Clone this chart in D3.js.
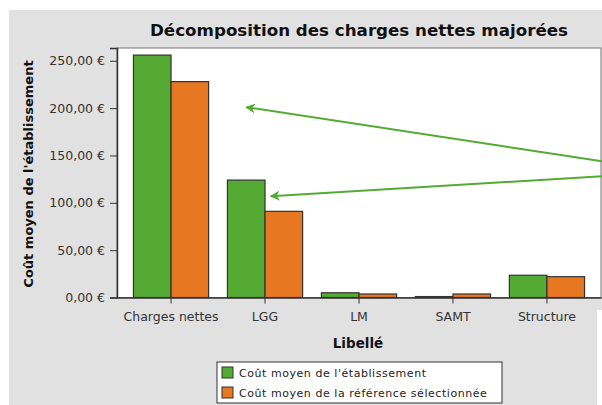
<!DOCTYPE html>
<html>
<head>
<meta charset="utf-8">
<script src="https://cdn.jsdelivr.net/npm/d3@7"></script>
<style>
  body { margin: 0; background: #fff; }
  text { font-family: "DejaVu Sans", sans-serif; }
</style>
</head>
<body>
<div id="chart"></div>
<script>
// data
var categories = ["Charges nettes", "LGG", "LM", "SAMT", "Structure"];
var etablissement = [256, 124, 5, 1, 23.5];
var reference = [228, 91, 3.7, 3.7, 22];
var seriesNames = ["Coût moyen de l'établissement", "Coût moyen de la référence sélectionnée"];
var yTicks = [0, 50, 100, 150, 200, 250];
// annotation arrows: tail at right edge, tip in data space (band index + offset, value)
var arrows = [
  { tailY: 144, tipCat: 1, tipOffset: -0.2, tipY: 201 },
  { tailY: 128, tipCat: 1, tipOffset: 0.06, tipY: 107 }
];

var width = 602,
  height = 405;
var colors = ["#55aa33", "#e87722"];

var svg = d3
  .select("#chart")
  .append("svg")
  .attr("width", width)
  .attr("height", height);

// grey panel behind everything
svg.append("rect")
  .attr("x", 9).attr("y", 10)
  .attr("width", width - 9).attr("height", height - 10)
  .attr("fill", "#e1e1e1");
svg.append("rect")
  .attr("x", 597).attr("y", 310)
  .attr("width", 5).attr("height", height - 310)
  .attr("fill", "#fff");

var plot = { left: 117, top: 48, right: 601, bottom: 297.5 };

var x = d3.scaleBand()
  .domain(categories)
  .range([plot.left, plot.right])
  .paddingInner(0)
  .paddingOuter(0.075);

var y = d3.scaleLinear()
  .domain([0, 263.5])
  .range([plot.bottom, plot.top]);

// plot background
svg.append("rect")
  .attr("x", plot.left).attr("y", plot.top)
  .attr("width", plot.right - plot.left).attr("height", plot.bottom - plot.top)
  .attr("fill", "#fff")
  .attr("stroke", "#777")
  .attr("stroke-width", 1);

//title
svg.append("text")
  .attr("x", 359).attr("y", 36)
  .attr("text-anchor", "middle")
  .attr("font-size", "16.7px")
  .style("font-weight", "bold")
  .attr("fill", "#111")
  .text("Décomposition des charges nettes majorées");

// bars
var barW = x.step() * 0.4;

[etablissement, reference].forEach(function(series, s) {
  svg.selectAll(".bar" + s)
    .data(series)
    .enter()
    .append("rect")
    .attr("class", "bar" + s)
    .attr("x", function(d, i) {
      var c = x(categories[i]) + x.bandwidth() / 2;
      return s === 0 ? c - barW : c;
    })
    .attr("y", function(d) { return y(d); })
    .attr("width", barW)
    .attr("height", function(d) { return y(0) - y(d); })
    .attr("fill", colors[s])
    .attr("stroke", "#333")
    .attr("stroke-width", 1.2);
});

// y axis
var yAxis = svg.append("g")
  .attr("transform", "translate(" + plot.left + ",0)")
  .call(d3.axisLeft(y).tickValues(yTicks).tickSize(7).tickPadding(5)
    .tickFormat(function(d) { return d3.format(".2f")(d).replace(".", ",") + " €"; }));
yAxis.select(".domain").attr("stroke", "#333").attr("stroke-width", 1.5);
yAxis.selectAll(".tick line").attr("stroke", "#333");
yAxis.selectAll("text")
  .attr("font-size", "12.5px")
  .attr("fill", "#333")
  .style("font-family", "DejaVu Sans, sans-serif");

// x axis
var xAxis = svg.append("g")
  .attr("transform", "translate(0," + plot.bottom + ")")
  .call(d3.axisBottom(x).tickSize(6).tickPadding(9).tickSizeOuter(0));
xAxis.select(".domain").attr("stroke", "#333").attr("stroke-width", 1.5);
xAxis.selectAll(".tick line").attr("stroke", "#333");
xAxis.selectAll("text")
  .attr("font-size", "12.5px")
  .attr("fill", "#333")
  .style("font-family", "DejaVu Sans, sans-serif");

// axis titles
svg.append("text")
  .attr("transform", "translate(33,174) rotate(-90)")
  .attr("text-anchor", "middle")
  .attr("font-size", "13px")
  .style("font-weight", "bold")
  .attr("fill", "#111")
  .text("Coût moyen de l'établissement");

svg.append("text")
  .attr("x", 358).attr("y", 348)
  .attr("text-anchor", "middle")
  .attr("font-size", "13.5px")
  .style("font-weight", "bold")
  .attr("fill", "#111")
  .text("Libellé");

// arrows
var defs = svg.append("defs");
defs.append("marker")
  .attr("id", "head")
  .attr("viewBox", "0 0 10 10")
  .attr("refX", 1).attr("refY", 5)
  .attr("markerWidth", 5).attr("markerHeight", 5)
  .attr("orient", "auto")
  .append("path")
  .attr("d", "M0,5 L10,0 L7,5 L10,10 Z")
  .attr("fill", "#55aa33");

svg.selectAll(".arrow")
  .data(arrows)
  .enter()
  .append("line")
  .attr("class", "arrow")
  .attr("x1", function(d) {
    return x(categories[d.tipCat]) + x.step() * (0.5 + d.tipOffset);
  })
  .attr("y1", function(d) { return y(d.tipY); })
  .attr("x2", width)
  .attr("y2", function(d) { return y(d.tailY); })
  .attr("stroke", "#55aa33")
  .attr("stroke-width", 2)
  .attr("marker-start", "url(#head)");

// legend
var legend = svg.append("g").attr("transform", "translate(217,362)");
legend.append("rect")
  .attr("width", 285).attr("height", 41)
  .attr("fill", "#fff")
  .attr("stroke", "#333")
  .attr("stroke-width", 1);
seriesNames.forEach(function(name, i) {
  legend.append("rect")
    .attr("x", 5).attr("y", 5 + i * 20)
    .attr("width", 11).attr("height", 11)
    .attr("fill", colors[i])
    .attr("stroke", "#333");
  legend.append("text")
    .attr("x", 22).attr("y", 15 + i * 20)
    .attr("font-size", "11px")
    .attr("letter-spacing", "0.55px")
    .attr("fill", "#222")
    .text(name);
});
</script>
</body>
</html>
